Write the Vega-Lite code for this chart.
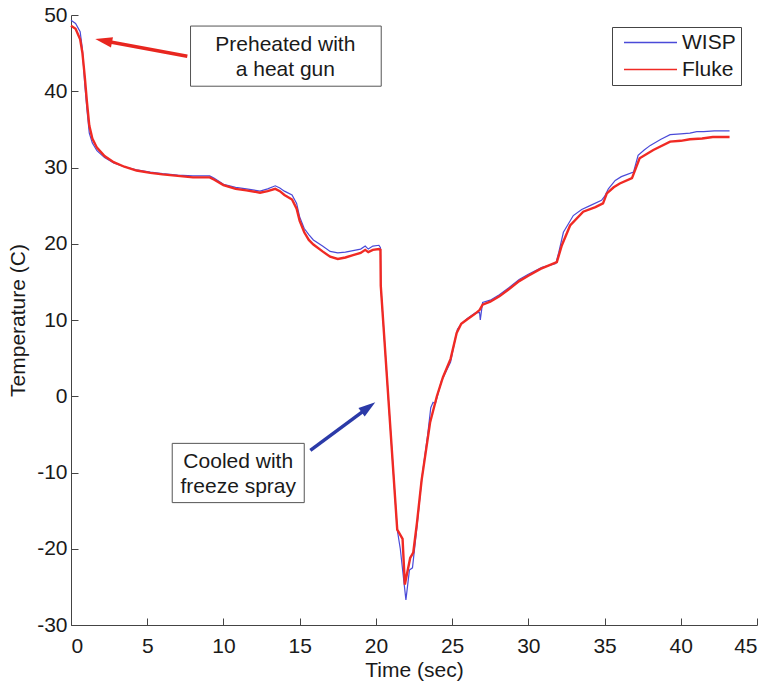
{
  "$schema": "https://vega.github.io/schema/vega-lite/v6.json",
  "width": 686,
  "height": 610,
  "autosize": "none",
  "padding": {"left": 71, "top": 15, "right": 13, "bottom": 58},
  "background": "white",
  "config": {
    "view": {"stroke": null},
    "font": "Liberation Sans",
    "axis": {
      "grid": false,
      "domainColor": "#444",
      "tickColor": "#444",
      "labelColor": "#1a1a1a",
      "titleColor": "#1a1a1a",
      "labelFont": "Liberation Sans",
      "titleFont": "Liberation Sans",
      "labelFontSize": 21,
      "titleFontSize": 21,
      "titleFontWeight": "normal",
      "tickSize": -7,
      "labelExpr": "toString(datum.value)"
    }
  },
  "datasets": {
    "series": [
      {"t": 0, "v": 49.3, "s": "WISP"}, {"t": 0.3, "v": 48.9, "s": "WISP"}, {"t": 0.6, "v": 47.8, "s": "WISP"}, {"t": 0.75, "v": 45.5, "s": "WISP"}, {"t": 0.9, "v": 41, "s": "WISP"}, {"t": 1.05, "v": 37.5, "s": "WISP"}, {"t": 1.2, "v": 34.5, "s": "WISP"}, {"t": 1.4, "v": 33.2, "s": "WISP"}, {"t": 1.7, "v": 32.2, "s": "WISP"}, {"t": 2.2, "v": 31.3, "s": "WISP"}, {"t": 2.8, "v": 30.6, "s": "WISP"}, {"t": 3.5, "v": 30.1, "s": "WISP"}, {"t": 4.3, "v": 29.7, "s": "WISP"}, {"t": 5.2, "v": 29.4, "s": "WISP"}, {"t": 6.0, "v": 29.2, "s": "WISP"}, {"t": 7.0, "v": 29.0, "s": "WISP"}, {"t": 8.0, "v": 28.9, "s": "WISP"}, {"t": 9.1, "v": 28.9, "s": "WISP"}, {"t": 9.4, "v": 28.6, "s": "WISP"}, {"t": 10.0, "v": 27.8, "s": "WISP"}, {"t": 10.8, "v": 27.4, "s": "WISP"}, {"t": 11.5, "v": 27.2, "s": "WISP"}, {"t": 12.4, "v": 26.9, "s": "WISP"}, {"t": 12.9, "v": 27.2, "s": "WISP"}, {"t": 13.4, "v": 27.6, "s": "WISP"}, {"t": 13.7, "v": 27.3, "s": "WISP"}, {"t": 14.0, "v": 26.9, "s": "WISP"}, {"t": 14.5, "v": 26.4, "s": "WISP"}, {"t": 14.8, "v": 25.3, "s": "WISP"}, {"t": 15.0, "v": 23.5, "s": "WISP"}, {"t": 15.3, "v": 22.0, "s": "WISP"}, {"t": 15.6, "v": 21.2, "s": "WISP"}, {"t": 15.9, "v": 20.5, "s": "WISP"}, {"t": 16.5, "v": 19.7, "s": "WISP"}, {"t": 17.0, "v": 19.0, "s": "WISP"}, {"t": 17.5, "v": 18.8, "s": "WISP"}, {"t": 18.0, "v": 18.9, "s": "WISP"}, {"t": 18.5, "v": 19.1, "s": "WISP"}, {"t": 19.0, "v": 19.3, "s": "WISP"}, {"t": 19.3, "v": 19.7, "s": "WISP"}, {"t": 19.5, "v": 19.3, "s": "WISP"}, {"t": 19.8, "v": 19.7, "s": "WISP"}, {"t": 20.2, "v": 19.8, "s": "WISP"}, {"t": 20.3, "v": 19.5, "s": "WISP"}, {"t": 20.32, "v": 14.5, "s": "WISP"}, {"t": 21.4, "v": -17.5, "s": "WISP"}, {"t": 21.6, "v": -20, "s": "WISP"}, {"t": 21.97, "v": -26.7, "s": "WISP"}, {"t": 22.2, "v": -22.8, "s": "WISP"}, {"t": 22.4, "v": -22.5, "s": "WISP"}, {"t": 22.7, "v": -17, "s": "WISP"}, {"t": 23.0, "v": -11, "s": "WISP"}, {"t": 23.4, "v": -5, "s": "WISP"}, {"t": 23.6, "v": -1.5, "s": "WISP"}, {"t": 23.75, "v": -0.8, "s": "WISP"}, {"t": 23.9, "v": -1.0, "s": "WISP"}, {"t": 24.3, "v": 2.0, "s": "WISP"}, {"t": 24.9, "v": 4.5, "s": "WISP"}, {"t": 25.2, "v": 7.5, "s": "WISP"}, {"t": 25.35, "v": 8.8, "s": "WISP"}, {"t": 25.6, "v": 9.5, "s": "WISP"}, {"t": 26.0, "v": 10.2, "s": "WISP"}, {"t": 26.5, "v": 10.9, "s": "WISP"}, {"t": 26.8, "v": 11.0, "s": "WISP"}, {"t": 26.85, "v": 10.0, "s": "WISP"}, {"t": 27.0, "v": 12.3, "s": "WISP"}, {"t": 27.5, "v": 12.6, "s": "WISP"}, {"t": 28.1, "v": 13.3, "s": "WISP"}, {"t": 28.7, "v": 14.2, "s": "WISP"}, {"t": 29.4, "v": 15.3, "s": "WISP"}, {"t": 30.0, "v": 16.0, "s": "WISP"}, {"t": 30.9, "v": 16.9, "s": "WISP"}, {"t": 31.8, "v": 17.4, "s": "WISP"}, {"t": 32.0, "v": 18.9, "s": "WISP"}, {"t": 32.3, "v": 21.5, "s": "WISP"}, {"t": 32.95, "v": 23.7, "s": "WISP"}, {"t": 33.5, "v": 24.5, "s": "WISP"}, {"t": 34.05, "v": 25.0, "s": "WISP"}, {"t": 34.8, "v": 25.7, "s": "WISP"}, {"t": 35.0, "v": 26.2, "s": "WISP"}, {"t": 35.25, "v": 27.2, "s": "WISP"}, {"t": 35.7, "v": 28.3, "s": "WISP"}, {"t": 36.1, "v": 28.8, "s": "WISP"}, {"t": 36.9, "v": 29.4, "s": "WISP"}, {"t": 37.2, "v": 31.6, "s": "WISP"}, {"t": 37.6, "v": 32.3, "s": "WISP"}, {"t": 38.0, "v": 32.9, "s": "WISP"}, {"t": 38.7, "v": 33.7, "s": "WISP"}, {"t": 39.3, "v": 34.3, "s": "WISP"}, {"t": 40.0, "v": 34.4, "s": "WISP"}, {"t": 40.6, "v": 34.5, "s": "WISP"}, {"t": 41.05, "v": 34.7, "s": "WISP"}, {"t": 41.5, "v": 34.7, "s": "WISP"}, {"t": 42.2, "v": 34.8, "s": "WISP"}, {"t": 43.2, "v": 34.8, "s": "WISP"},
      {"t": 0, "v": 48.6, "s": "Fluke"}, {"t": 0.3, "v": 48.2, "s": "Fluke"}, {"t": 0.6, "v": 46.8, "s": "Fluke"}, {"t": 0.75, "v": 45, "s": "Fluke"}, {"t": 0.9, "v": 42, "s": "Fluke"}, {"t": 1.05, "v": 38.5, "s": "Fluke"}, {"t": 1.2, "v": 35.5, "s": "Fluke"}, {"t": 1.4, "v": 33.8, "s": "Fluke"}, {"t": 1.7, "v": 32.6, "s": "Fluke"}, {"t": 2.2, "v": 31.5, "s": "Fluke"}, {"t": 2.8, "v": 30.7, "s": "Fluke"}, {"t": 3.5, "v": 30.1, "s": "Fluke"}, {"t": 4.3, "v": 29.6, "s": "Fluke"}, {"t": 5.2, "v": 29.3, "s": "Fluke"}, {"t": 6.0, "v": 29.1, "s": "Fluke"}, {"t": 7.0, "v": 28.9, "s": "Fluke"}, {"t": 8.0, "v": 28.7, "s": "Fluke"}, {"t": 9.1, "v": 28.7, "s": "Fluke"}, {"t": 9.4, "v": 28.4, "s": "Fluke"}, {"t": 10.0, "v": 27.7, "s": "Fluke"}, {"t": 10.8, "v": 27.2, "s": "Fluke"}, {"t": 11.5, "v": 27.0, "s": "Fluke"}, {"t": 12.4, "v": 26.7, "s": "Fluke"}, {"t": 12.9, "v": 26.9, "s": "Fluke"}, {"t": 13.4, "v": 27.2, "s": "Fluke"}, {"t": 13.7, "v": 26.9, "s": "Fluke"}, {"t": 14.0, "v": 26.4, "s": "Fluke"}, {"t": 14.5, "v": 25.8, "s": "Fluke"}, {"t": 14.8, "v": 24.6, "s": "Fluke"}, {"t": 15.0, "v": 23.0, "s": "Fluke"}, {"t": 15.3, "v": 21.5, "s": "Fluke"}, {"t": 15.6, "v": 20.5, "s": "Fluke"}, {"t": 15.9, "v": 19.9, "s": "Fluke"}, {"t": 16.5, "v": 19.0, "s": "Fluke"}, {"t": 17.0, "v": 18.3, "s": "Fluke"}, {"t": 17.5, "v": 18.0, "s": "Fluke"}, {"t": 18.0, "v": 18.2, "s": "Fluke"}, {"t": 18.5, "v": 18.5, "s": "Fluke"}, {"t": 19.0, "v": 18.8, "s": "Fluke"}, {"t": 19.3, "v": 19.2, "s": "Fluke"}, {"t": 19.5, "v": 18.9, "s": "Fluke"}, {"t": 19.8, "v": 19.2, "s": "Fluke"}, {"t": 20.2, "v": 19.3, "s": "Fluke"}, {"t": 20.3, "v": 19.2, "s": "Fluke"}, {"t": 20.32, "v": 14.5, "s": "Fluke"}, {"t": 21.4, "v": -17.5, "s": "Fluke"}, {"t": 21.75, "v": -18.7, "s": "Fluke"}, {"t": 21.9, "v": -24.7, "s": "Fluke"}, {"t": 22.25, "v": -21.2, "s": "Fluke"}, {"t": 22.45, "v": -20.5, "s": "Fluke"}, {"t": 22.7, "v": -16.5, "s": "Fluke"}, {"t": 23.0, "v": -11, "s": "Fluke"}, {"t": 23.56, "v": -3.4, "s": "Fluke"}, {"t": 24.0, "v": 0.0, "s": "Fluke"}, {"t": 24.4, "v": 2.5, "s": "Fluke"}, {"t": 24.9, "v": 4.9, "s": "Fluke"}, {"t": 25.3, "v": 8.3, "s": "Fluke"}, {"t": 25.6, "v": 9.5, "s": "Fluke"}, {"t": 26.0, "v": 10.1, "s": "Fluke"}, {"t": 26.5, "v": 10.8, "s": "Fluke"}, {"t": 26.8, "v": 11.3, "s": "Fluke"}, {"t": 27.0, "v": 12.0, "s": "Fluke"}, {"t": 27.5, "v": 12.4, "s": "Fluke"}, {"t": 28.1, "v": 13.1, "s": "Fluke"}, {"t": 28.7, "v": 14.0, "s": "Fluke"}, {"t": 29.4, "v": 15.1, "s": "Fluke"}, {"t": 30.0, "v": 15.8, "s": "Fluke"}, {"t": 30.8, "v": 16.7, "s": "Fluke"}, {"t": 31.87, "v": 17.6, "s": "Fluke"}, {"t": 32.2, "v": 19.8, "s": "Fluke"}, {"t": 32.74, "v": 22.4, "s": "Fluke"}, {"t": 33.6, "v": 24.2, "s": "Fluke"}, {"t": 34.4, "v": 24.8, "s": "Fluke"}, {"t": 34.9, "v": 25.3, "s": "Fluke"}, {"t": 35.15, "v": 26.6, "s": "Fluke"}, {"t": 35.6, "v": 27.4, "s": "Fluke"}, {"t": 36.0, "v": 27.9, "s": "Fluke"}, {"t": 36.8, "v": 28.6, "s": "Fluke"}, {"t": 37.3, "v": 31.2, "s": "Fluke"}, {"t": 38.2, "v": 32.3, "s": "Fluke"}, {"t": 39.3, "v": 33.4, "s": "Fluke"}, {"t": 40.0, "v": 33.5, "s": "Fluke"}, {"t": 40.6, "v": 33.7, "s": "Fluke"}, {"t": 41.4, "v": 33.8, "s": "Fluke"}, {"t": 42.1, "v": 34.0, "s": "Fluke"}, {"t": 43.2, "v": 34.0, "s": "Fluke"}
    ],
    "boxes": [
      {"x1": 7.84, "x2": 20.35, "y1": 48.55, "y2": 40.66},
      {"x1": 6.64, "x2": 15.3, "y1": -6.18, "y2": -13.95}
    ],
    "labels": [
      {"x": 14.06, "y": 46.05, "text": "Preheated with"},
      {"x": 14.06, "y": 42.76, "text": "a heat gun"},
      {"x": 10.97, "y": -8.68, "text": "Cooled with"},
      {"x": 10.97, "y": -11.84, "text": "freeze spray"}
    ],
    "arrows": [
      {"x1": 7.63, "y1": 44.6, "x2": 2.14, "y2": 46.63, "hx": 2.14, "hy": 46.63, "angle": 11, "c": "red"},
      {"x1": 15.7, "y1": -7.1, "x2": 19.51, "y2": -1.45, "hx": 19.51, "hy": -1.45, "angle": 143.6, "c": "blue"}
    ]
  },
  "layer": [
    {
      "data": {"name": "series"},
      "mark": {"type": "line", "interpolate": "linear"},
      "encoding": {
        "x": {"field": "t", "type": "quantitative", "scale": {"domain": [0, 45], "nice": false}, "axis": {"values": [0, 5, 10, 15, 20, 25, 30, 35, 40, 45], "title": "Time (sec)", "labelPadding": 17, "titlePadding": 3}},
        "y": {"field": "v", "type": "quantitative", "scale": {"domain": [-30, 50], "nice": false}, "axis": {"values": [-30, -20, -10, 0, 10, 20, 30, 40, 50], "title": "Temperature (C)", "labelPadding": 11, "titlePadding": 8}},
        "color": {
          "field": "s", "type": "nominal",
          "scale": {"domain": ["WISP", "Fluke"], "range": ["#4a4ad8", "#f02a24"]},
          "legend": {
            "title": null, "orient": "none", "legendX": 541, "legendY": 12,
            "strokeColor": "#444", "padding": 5, "fillColor": "white",
            "labelFontSize": 21, "labelFont": "Liberation Sans", "labelColor": "#1a1a1a",
            "symbolType": "M-5.3,0H5.3", "symbolSize": 100, "symbolStrokeWidth": 1.5,
            "symbolOffset": 23, "labelOffset": 21, "rowPadding": 5
          }
        },
        "strokeWidth": {"field": "s", "type": "nominal", "scale": {"domain": ["WISP", "Fluke"], "range": [1.2, 2.4]}, "legend": null}
      }
    },
    {
      "data": {"name": "boxes"},
      "mark": {"type": "rect", "fill": "white", "stroke": "#555", "strokeWidth": 1},
      "encoding": {
        "x": {"field": "x1", "type": "quantitative"},
        "x2": {"field": "x2"},
        "y": {"field": "y1", "type": "quantitative"},
        "y2": {"field": "y2"}
      }
    },
    {
      "data": {"name": "labels"},
      "mark": {"type": "text", "fontSize": 21, "font": "Liberation Sans", "color": "#1a1a1a", "align": "center", "baseline": "middle"},
      "encoding": {
        "x": {"field": "x", "type": "quantitative"},
        "y": {"field": "y", "type": "quantitative"},
        "text": {"field": "text"}
      }
    },
    {
      "data": {"name": "arrows"},
      "mark": {"type": "rule", "strokeWidth": 3.5},
      "encoding": {
        "x": {"field": "x1", "type": "quantitative"},
        "y": {"field": "y1", "type": "quantitative"},
        "x2": {"field": "x2"},
        "y2": {"field": "y2"},
        "color": {"field": "c", "type": "nominal", "scale": {"domain": ["red", "blue"], "range": ["#e8261f", "#2b3aa8"]}, "legend": null}
      }
    },
    {
      "data": {"name": "arrows"},
      "mark": {"type": "point", "shape": "M-1,0L1,-0.62L1,0.62Z", "filled": true, "size": 290, "opacity": 1},
      "encoding": {
        "x": {"field": "hx", "type": "quantitative"},
        "y": {"field": "hy", "type": "quantitative"},
        "angle": {"field": "angle", "type": "quantitative", "scale": null},
        "color": {"field": "c", "type": "nominal", "scale": {"domain": ["red", "blue"], "range": ["#e8261f", "#2b3aa8"]}, "legend": null}
      }
    }
  ],
  "resolve": {"scale": {"color": "independent"}}
}
